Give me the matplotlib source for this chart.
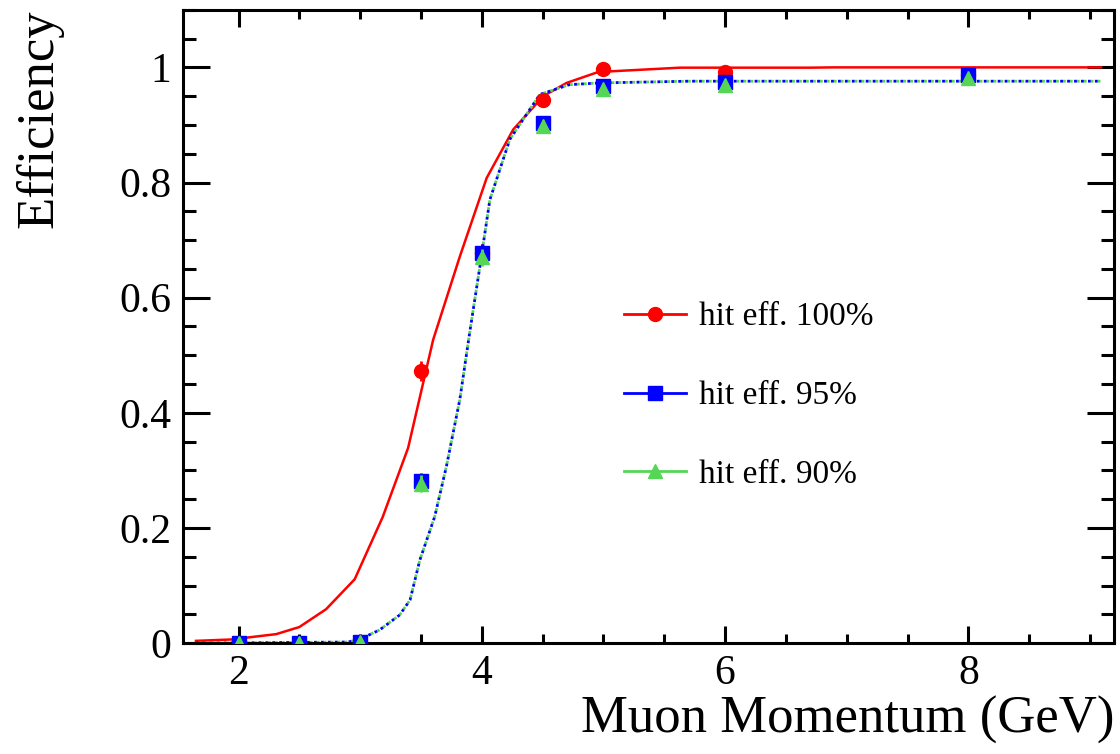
import matplotlib
matplotlib.use("Agg")
import matplotlib.pyplot as plt
from matplotlib.ticker import MultipleLocator, FixedLocator

plt.rcParams['font.family'] = ['Liberation Serif', 'DejaVu Serif']
plt.rcParams['mathtext.fontset'] = 'stix'

# Measured points (momentum in GeV)
momentum = [2.0, 2.5, 3.0, 3.5, 4.0, 4.5, 5.0, 6.0, 8.0]
eff_100 = [0.0, 0.0, 0.002, 0.473, 0.678, 0.943, 0.998, 0.992, 0.986]
err_100 = [0.0, 0.0, 0.002, 0.017, 0.015, 0.008, 0.003, 0.003, 0.003]
eff_95 = [0.0, 0.0, 0.002, 0.281, 0.678, 0.903, 0.967, 0.974, 0.986]
err_95 = [0.0, 0.0, 0.002, 0.015, 0.015, 0.010, 0.006, 0.005, 0.004]
eff_90 = [0.0, 0.0, 0.002, 0.277, 0.670, 0.898, 0.962, 0.970, 0.982]
err_90 = [0.0, 0.0, 0.002, 0.015, 0.015, 0.010, 0.006, 0.005, 0.004]

# Fitted turn-on curves
fit_x_100 = [1.65, 1.94, 2.31, 2.50, 2.72, 2.955, 3.185, 3.394, 3.60, 3.82,
             4.04, 4.258, 4.505, 4.697, 4.957, 5.63, 6.70, 6.89, 9.09]
fit_y_100 = [0.004, 0.0064, 0.0157, 0.028, 0.059, 0.111, 0.219, 0.339, 0.527, 0.672,
             0.808, 0.892, 0.950, 0.973, 0.992, 0.9995, 0.9995, 1.0, 1.0]
fit_x_95 = [1.65, 2.90, 3.00, 3.16, 3.325, 3.41, 3.49, 3.613, 3.709, 3.819,
            3.90, 3.984, 4.066, 4.23, 4.477, 4.72, 4.97, 5.70, 9.09]
fit_y_95 = [0.0, 0.002, 0.007, 0.023, 0.049, 0.075, 0.144, 0.22, 0.307, 0.423,
            0.539, 0.654, 0.77, 0.875, 0.953, 0.970, 0.973, 0.976, 0.976]
fit_x_90 = [1.65, 2.90, 3.00, 3.16, 3.325, 3.41, 3.49, 3.613, 3.709, 3.819,
            3.90, 3.984, 4.066, 4.23, 4.477, 4.72, 4.97, 5.70, 9.09]
fit_y_90 = [0.0, 0.002, 0.007, 0.023, 0.049, 0.075, 0.144, 0.22, 0.307, 0.423,
            0.539, 0.654, 0.77, 0.875, 0.953, 0.970, 0.973, 0.976, 0.976]

labels = ["hit eff. 100%", "hit eff. 95%", "hit eff. 90%"]
RED = "#ff0000"
BLUE = "#0000ff"
GREEN = "#55d655"

fig = plt.figure(figsize=(11.2, 7.54), dpi=100)
ax = fig.add_axes([0.163, 0.147, 0.832, 0.840])

# curves
ax.plot(fit_x_100, fit_y_100, color=RED, lw=1.8, solid_joinstyle='miter', zorder=2)
ax.plot(fit_x_90, fit_y_90, color=GREEN, lw=2.0, linestyle=(1.5, (1, 1.5)), zorder=2)
ax.plot(fit_x_95, fit_y_95, color=BLUE, lw=2.0, linestyle=(0, (1, 1.5)), zorder=2)

# points with error bars
ax.errorbar(momentum, eff_100, yerr=err_100, fmt='o', color=RED, ms=10,
            elinewidth=2, capsize=0, zorder=3)
ax.errorbar(momentum, eff_95, yerr=err_95, fmt='s', color=BLUE, ms=10,
            elinewidth=2, capsize=0, zorder=4)
ax.errorbar(momentum, eff_90, yerr=err_90, fmt='^', color=GREEN, ms=10,
            elinewidth=2, capsize=0, zorder=5)

ax.set_xlim(1.54, 9.2)
ax.set_ylim(0, 1.10)

ax.xaxis.set_major_locator(FixedLocator([2, 4, 6, 8]))
ax.xaxis.set_minor_locator(MultipleLocator(0.5))
ax.yaxis.set_major_locator(FixedLocator([0, 0.2, 0.4, 0.6, 0.8, 1.0]))
ax.yaxis.set_minor_locator(MultipleLocator(0.05))
ax.set_yticklabels(["0", "0.2", "0.4", "0.6", "0.8", "1"])
ax.set_xticklabels(["2", "4", "6", "8"])

for s in ax.spines.values():
    s.set_linewidth(2.2)
ax.tick_params(axis='both', which='both', direction='in', top=True, right=True,
               width=2.2, labelsize=30, colors='black')
ax.tick_params(axis='x', which='major', length=12.5, pad=8)
ax.tick_params(axis='x', which='minor', length=6.5)
ax.tick_params(axis='y', which='major', length=19.5, pad=8)
ax.tick_params(axis='y', which='minor', length=9.5)

ax.set_xlabel("Muon Momentum (GeV)", fontsize=38, loc='right', labelpad=2)
ax.set_ylabel("Efficiency", fontsize=38, loc='top', labelpad=40)

# legend entries
handles = [
    plt.Line2D([], [], color=RED, lw=2, marker='o', ms=10),
    plt.Line2D([], [], color=BLUE, lw=2, marker='s', ms=10),
    plt.Line2D([], [], color=GREEN, lw=2, marker='^', ms=10),
]
ax.legend(handles, labels, loc='upper left', bbox_to_anchor=(0.456, 0.565),
          frameon=False, fontsize=24, handlelength=1.85, handletextpad=0.4,
          labelspacing=1.45, borderpad=0)

fig.savefig("out.png", dpi=100)
